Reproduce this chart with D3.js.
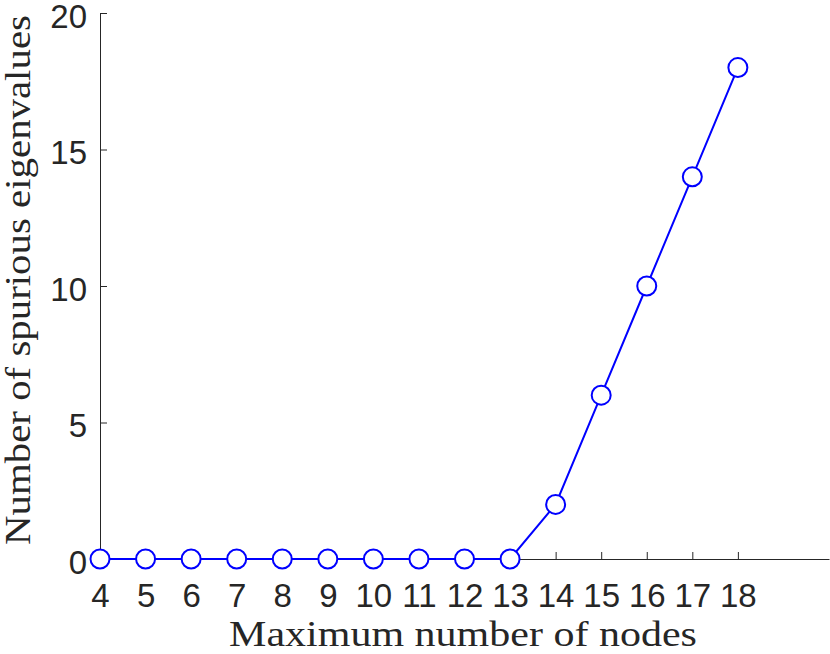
<!DOCTYPE html>
<html>
<head>
<meta charset="utf-8">
<script src="https://cdn.jsdelivr.net/npm/d3@7"></script>
<style>
  html, body { margin: 0; padding: 0; background: #fff; }
  svg { display: block; }
</style>
</head>
<body>
<svg id="chart" width="830" height="654"></svg>
<script>
const maxNodes = [4, 5, 6, 7, 8, 9, 10, 11, 12, 13, 14, 15, 16, 17, 18];
const spuriousCounts = [0, 0, 0, 0, 0, 0, 0, 0, 0, 0, 2, 6, 10, 14, 18];
const xTicks = [4, 5, 6, 7, 8, 9, 10, 11, 12, 13, 14, 15, 16, 17, 18];
const yTicks = [0, 5, 10, 15, 20];
const xLabel = "Maximum number of nodes";
const yLabel = "Number of spurious eigenvalues";

const svg = d3.select("#chart");
const axisColor = "#262626";
const x = d3.scaleLinear().domain([4, 20]).range([100, 829]);
const y = d3.scaleLinear().domain([0, 20]).range([559, 13]);
const tickFont = "'Liberation Sans', Arial, Helvetica, sans-serif";
const labelFont = "'Liberation Serif', 'Times New Roman', serif";

// X axis
const xAxis = d3.axisBottom(x).tickValues(xTicks).tickSize(-7).tickSizeOuter(0).tickFormat(d3.format("d"));
const gx = svg.append("g").attr("transform", `translate(0,${y(0)})`).call(xAxis);
gx.select(".domain").attr("stroke", axisColor).attr("stroke-width", 1);
gx.selectAll(".tick line").attr("stroke", axisColor).attr("stroke-width", 1);
gx.selectAll(".tick text")
  .attr("fill", axisColor)
  .attr("font-family", tickFont)
  .attr("font-size", 33)
  .attr("dy", null)
  .attr("y", 48);

// Y axis
const yAxis = d3.axisLeft(y).tickValues(yTicks).tickSize(-7).tickSizeOuter(0).tickFormat(d3.format("d"));
const gy = svg.append("g").attr("transform", `translate(${x(4)},0)`).call(yAxis);
gy.select(".domain").attr("stroke", axisColor).attr("stroke-width", 1);
gy.selectAll(".tick line").attr("stroke", axisColor).attr("stroke-width", 1);
gy.selectAll(".tick text")
  .attr("fill", axisColor)
  .attr("font-family", tickFont)
  .attr("font-size", 33)
  .attr("x", -13)
  .attr("dy", null)
  .attr("y", 14);

// Line
const line = d3.line().x((d, i) => x(maxNodes[i])).y(d => y(d));
svg.append("path")
  .datum(spuriousCounts)
  .attr("d", line)
  .attr("fill", "none")
  .attr("stroke", "#0000ff")
  .attr("stroke-width", 2);

// Markers
svg.append("g").selectAll("circle")
  .data(spuriousCounts)
  .join("circle")
  .attr("cx", (d, i) => x(maxNodes[i]))
  .attr("cy", d => y(d))
  .attr("r", 9.5)
  .attr("fill", "#fff")
  .attr("stroke", "#0000ff")
  .attr("stroke-width", 2);

// Axis labels (serif, stretched horizontally to mimic the wider Computer Modern face)
function stretchedLabel(txt, size, targetLen, cx, cy, rot) {
  const g = svg.append("g");
  const t = g.append("text")
    .attr("text-anchor", "middle")
    .attr("font-family", labelFont)
    .attr("font-size", size)
    .attr("fill", axisColor)
    .text(txt);
  const len = t.node().getComputedTextLength();
  const sx = targetLen / len;
  g.attr("transform", `translate(${cx},${cy}) rotate(${rot}) scale(${sx},1)`);
  return g;
}
stretchedLabel(xLabel, 35, 468, 463, 646, 0);
stretchedLabel(yLabel, 36, 530, 30, 280, -90);
</script>
</body>
</html>
